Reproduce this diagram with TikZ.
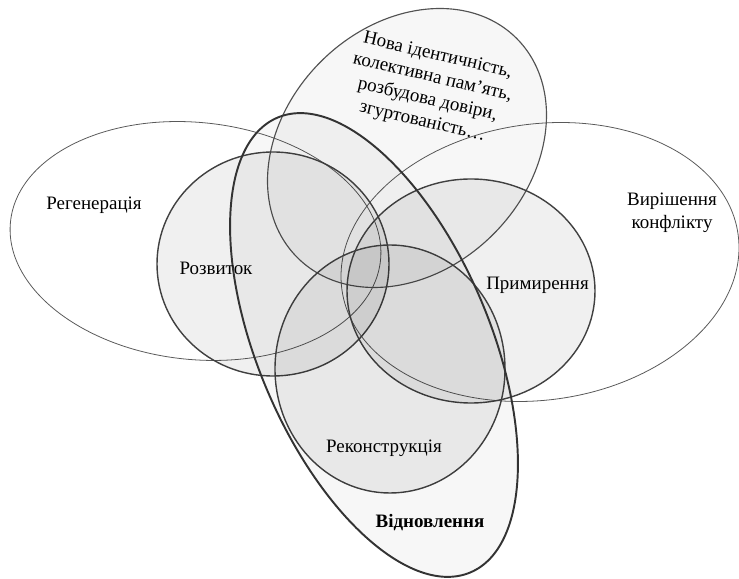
\documentclass[tikz,border=0pt]{standalone}
\usepackage{fontspec}
\setmainfont{Liberation Serif}
\usetikzlibrary{positioning}

\begin{document}
\begin{tikzpicture}[
    font=\rmfamily\fontsize{10.8}{12.9}\selectfont,
    outer/.style={draw=black!65, line width=0.45pt},
    circ/.style={draw=black!75, line width=0.8pt, fill=black, fill opacity=0.06},
    wide/.style={draw=black!68, line width=0.65pt, fill=black, fill opacity=0.03},
    hull/.style={draw=black!80, line width=1.1pt, fill=black, fill opacity=0.03},
    txt/.style={align=center}
  ]
  \useasboundingbox (0,0) rectangle (14.78,11.58);

  % Open ellipses (no fill)
  \draw[outer, rotate around={-6:(3.91,6.76)}] (3.91,6.76) ellipse [x radius=3.72, y radius=2.37];
  \draw[outer, rotate around={8:(10.80,6.34)}] (10.80,6.34) ellipse [x radius=4.00, y radius=2.76];

  % Upper ellipse
  \draw[wide, rotate around={45:(8.14,8.62)}] (8.14,8.62) ellipse [x radius=3.10, y radius=2.44];

  % Inner circles
  \draw[circ] (5.46,6.30) ellipse [x radius=2.32, y radius=2.24];
  \draw[circ] (9.42,5.76) ellipse [x radius=2.48, y radius=2.24];
  \draw[circ] (7.80,4.20) ellipse [x radius=2.30, y radius=2.48];

  % Enclosing ellipse
  \draw[hull, rotate around={-67:(7.48,4.68)}] (7.48,4.68) ellipse [x radius=4.94, y radius=2.32];

  % Labels
  \node[txt] (regen) at (1.88,7.48) {Регенерація};
  \node[txt] (devel) at (4.32,6.22) {Розвиток};
  \node[txt] (recon) at (10.75,5.88) {Примирення};
  \node[txt] (resol) at (13.44,7.32) {Вирішення\\конфлікту};
  \node[txt] (rebuild) at (7.68,2.62) {Реконструкція};
  \node[txt, font=\rmfamily\fontsize{10.8}{12.9}\selectfont\bfseries] (restore) at (8.60,1.12) {Відновлення};
  \node[txt, rotate=-13] (ident) at (8.60,9.80) {Нова ідентичність,\\колективна пам’ять,\\розбудова довіри,\\згуртованість…};
\end{tikzpicture}
\end{document}
